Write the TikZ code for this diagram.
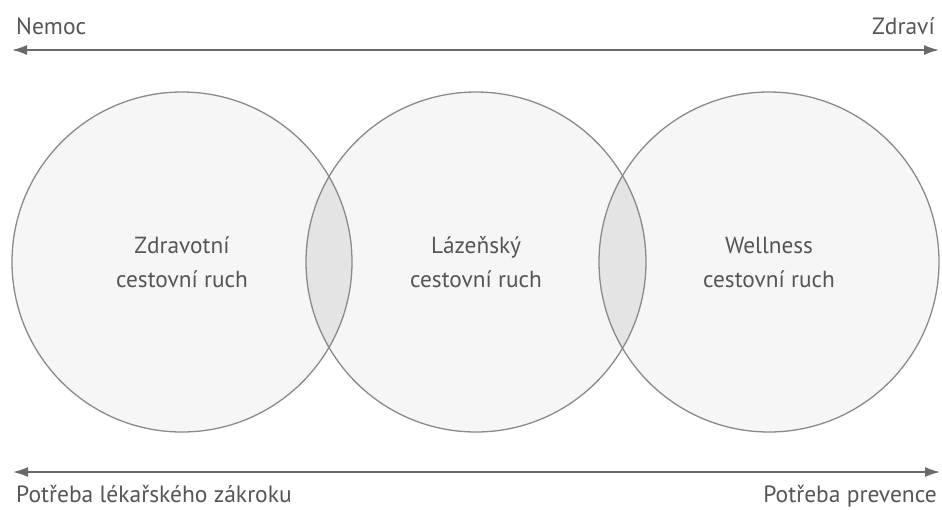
\documentclass[tikz,border=0pt]{standalone}
\usepackage{fontspec}
\setmainfont{PT Sans}
\usetikzlibrary{arrows.meta}
\definecolor{txt}{HTML}{555555}
\definecolor{ring}{HTML}{8A8A8A}
\definecolor{disc}{HTML}{F6F6F6}
\definecolor{lens}{HTML}{E4E4E4}
\definecolor{axisc}{HTML}{6A6A6A}
\tikzset{
  sphere/.style={circle, minimum size=340pt, inner sep=0pt, draw=ring, line width=1.3pt,
    align=center, text=txt, font=\fontsize{23.3}{34}\selectfont},
  axisline/.style={draw=axisc, line width=1.6pt, {Latex[length=15pt,width=10pt]}-{Latex[length=15pt,width=10pt]}},
  lbl/.style={text=txt, font=\fontsize{23.5}{27}\selectfont, inner sep=0pt}
}
\begin{document}
\begin{tikzpicture}[x=1pt,y=-1pt]
\useasboundingbox (0,0) rectangle (942,509);
% discs
\fill[disc] (182,262) circle (170);
\fill[disc] (476,262) circle (170);
\fill[disc] (769,262) circle (170);
\begin{scope}
  \clip (182,262) circle (170);
  \fill[lens] (476,262) circle (170);
\end{scope}
\begin{scope}
  \clip (476,262) circle (170);
  \fill[lens] (769,262) circle (170);
\end{scope}
% circles with text
\node[sphere] (zdrav) at (182,262) {Zdravotní\\cestovní ruch};
\node[sphere] (laz) at (476,262) {Lázeňský\\cestovní ruch};
\node[sphere] (well) at (769,262) {Wellness\\cestovní ruch};
% axes
\coordinate (tl) at (12,50);
\coordinate (tr) at (939,50);
\coordinate (bl) at (13,472);
\coordinate (br) at (940,472);
\draw[axisline] (tl) -- (tr);
\draw[axisline] (bl) -- (br);
% labels
\node[lbl, anchor=base west] (nemoc) at (16,34) {Nemoc};
\node[lbl, anchor=base east] (zdravi) at (935,34) {Zdraví};
\node[lbl, anchor=base west] (lek) at (16,502) {Potřeba lékařského zákroku};
\node[lbl, anchor=base east] (prev) at (937,502) {Potřeba prevence};
\end{tikzpicture}
\end{document}
